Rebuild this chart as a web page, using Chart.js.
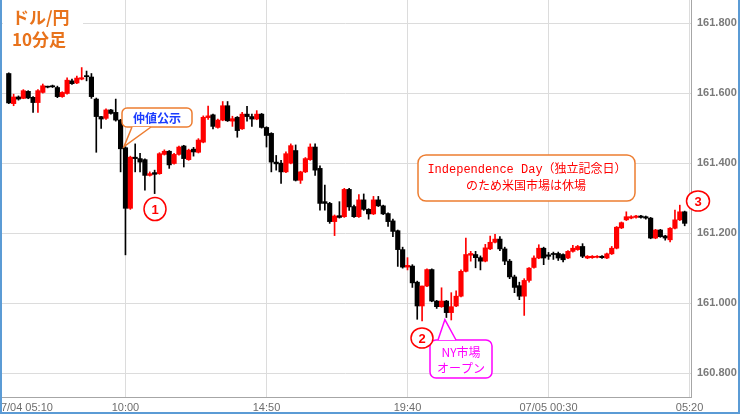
<!DOCTYPE html>
<html>
<head>
  <meta charset="utf-8">
  <title>ドル/円 10分足</title>
  <script src="https://cdn.jsdelivr.net/npm/chart.js"></script>
  <style>
    html, body { margin: 0; padding: 0; background: #fff; }
    canvas { display: block; }
  </style>
</head>
<body>
  <canvas id="chart" width="740" height="414"></canvas>
  <script>
    // bar index 0 = 07/04 05:10, one bar every 10 minutes
    const firstBar = 5;

    const opens = [
      161.656, 161.570, 161.589, 161.585, 161.605, 161.588, 161.573, 161.602, 161.618, 161.621,
      161.616, 161.590, 161.599, 161.635, 161.629, 161.640, 161.650, 161.646, 161.583, 161.533,
      161.528, 161.552, 161.545, 161.523, 161.444, 161.271, 161.417, 161.413, 161.410, 161.365,
      161.373, 161.370, 161.425, 161.434, 161.399, 161.425, 161.449, 161.410, 161.440, 161.431,
      161.460, 161.530, 161.538, 161.502, 161.523, 161.564, 161.520, 161.531, 161.498, 161.540,
      161.533, 161.526, 161.540, 161.502, 161.485, 161.403, 161.400, 161.375, 161.400, 161.436,
      161.351, 161.375, 161.410, 161.446, 161.385, 161.290, 161.285, 161.233, 161.250, 161.247,
      161.325, 161.276, 161.247, 161.295, 161.268, 161.255, 161.295, 161.278, 161.256, 161.235,
      161.207, 161.153, 161.103, 161.106, 161.060, 160.992, 161.049, 161.096, 161.006, 160.990,
      161.006, 160.973, 160.992, 161.020, 161.091, 161.137, 161.139, 161.130, 161.120, 161.155,
      161.174, 161.183, 161.155, 161.120, 161.075, 161.050, 161.020, 161.065, 161.102, 161.129,
      161.157, 161.138, 161.142, 161.142, 161.139, 161.129, 161.148, 161.153, 161.162, 161.129,
      161.130, 161.131, 161.134, 161.129, 161.141, 161.157, 161.215, 161.238, 161.243, 161.245,
      161.249, 161.247, 161.243, 161.186, 161.209, 161.192, 161.181, 161.214, 161.238, 161.261
    ];
    const highs = [
      161.658, 161.597, 161.592, 161.610, 161.607, 161.590, 161.610, 161.626, 161.620, 161.623,
      161.620, 161.604, 161.644, 161.640, 161.649, 161.673, 161.663, 161.656, 161.586, 161.534,
      161.555, 161.554, 161.583, 161.525, 161.447, 161.420, 161.455, 161.428, 161.412, 161.375,
      161.380, 161.430, 161.438, 161.436, 161.428, 161.449, 161.451, 161.440, 161.445, 161.470,
      161.535, 161.563, 161.540, 161.526, 161.576, 161.576, 161.534, 161.533, 161.545, 161.562,
      161.540, 161.550, 161.542, 161.504, 161.487, 161.422, 161.408, 161.432, 161.455, 161.452,
      161.377, 161.416, 161.455, 161.455, 161.392, 161.337, 161.288, 161.252, 161.290, 161.328,
      161.328, 161.280, 161.310, 161.312, 161.270, 161.305, 161.305, 161.280, 161.258, 161.240,
      161.209, 161.160, 161.130, 161.110, 161.063, 161.049, 161.098, 161.098, 161.008, 161.044,
      161.008, 161.030, 161.035, 161.095, 161.186, 161.148, 161.148, 161.135, 161.168, 161.192,
      161.197, 161.190, 161.160, 161.125, 161.080, 161.060, 161.070, 161.102, 161.135, 161.167,
      161.160, 161.145, 161.146, 161.146, 161.141, 161.150, 161.165, 161.165, 161.170, 161.136,
      161.136, 161.136, 161.136, 161.143, 161.162, 161.219, 161.232, 161.261, 161.250, 161.251,
      161.251, 161.249, 161.245, 161.211, 161.211, 161.194, 161.216, 161.266, 161.280, 161.263
    ];
    const lows = [
      161.570, 161.564, 161.580, 161.584, 161.584, 161.545, 161.545, 161.600, 161.615, 161.616,
      161.587, 161.588, 161.597, 161.625, 161.627, 161.638, 161.635, 161.585, 161.431, 161.499,
      161.525, 161.540, 161.520, 161.375, 161.138, 161.268, 161.375, 161.375, 161.323, 161.363,
      161.313, 161.368, 161.423, 161.385, 161.397, 161.423, 161.389, 161.408, 161.420, 161.429,
      161.458, 161.525, 161.498, 161.500, 161.521, 161.519, 161.505, 161.474, 161.496, 161.520,
      161.505, 161.524, 161.500, 161.446, 161.375, 161.380, 161.342, 161.373, 161.398, 161.349,
      161.342, 161.373, 161.408, 161.365, 161.266, 161.266, 161.228, 161.193, 161.243, 161.245,
      161.265, 161.245, 161.245, 161.265, 161.240, 161.253, 161.276, 161.253, 161.219, 161.190,
      161.105, 161.100, 161.095, 161.045, 160.954, 160.949, 161.047, 161.004, 160.985, 160.988,
      160.959, 160.952, 160.990, 161.018, 161.089, 161.120, 161.101, 161.095, 161.118, 161.153,
      161.172, 161.150, 161.110, 161.070, 161.030, 161.010, 160.965, 161.060, 161.100, 161.127,
      161.110, 161.125, 161.125, 161.122, 161.118, 161.127, 161.146, 161.151, 161.130, 161.127,
      161.128, 161.129, 161.128, 161.127, 161.139, 161.155, 161.213, 161.236, 161.241, 161.243,
      161.243, 161.240, 161.184, 161.184, 161.188, 161.180, 161.175, 161.212, 161.236, 161.221
    ];
    const closes = [
      161.572, 161.589, 161.583, 161.607, 161.586, 161.573, 161.607, 161.621, 161.617, 161.618,
      161.590, 161.602, 161.637, 161.627, 161.643, 161.644, 161.647, 161.590, 161.533, 161.526,
      161.552, 161.542, 161.523, 161.441, 161.271, 161.417, 161.413, 161.403, 161.365, 161.370,
      161.368, 161.427, 161.434, 161.395, 161.425, 161.446, 161.413, 161.437, 161.432, 161.466,
      161.531, 161.535, 161.505, 161.523, 161.564, 161.521, 161.527, 161.493, 161.540, 161.533,
      161.526, 161.540, 161.502, 161.479, 161.403, 161.398, 161.375, 161.427, 161.450, 161.351,
      161.375, 161.413, 161.446, 161.380, 161.285, 161.285, 161.233, 161.249, 161.245, 161.325,
      161.275, 161.247, 161.295, 161.268, 161.255, 161.295, 161.278, 161.255, 161.233, 161.205,
      161.153, 161.103, 161.108, 161.058, 160.992, 161.049, 161.096, 161.006, 160.990, 161.006,
      160.973, 160.990, 161.020, 161.091, 161.139, 161.142, 161.130, 161.120, 161.158, 161.174,
      161.183, 161.155, 161.120, 161.075, 161.045, 161.020, 161.065, 161.100, 161.129, 161.157,
      161.129, 161.134, 161.139, 161.129, 161.124, 161.148, 161.157, 161.162, 161.134, 161.134,
      161.134, 161.134, 161.130, 161.141, 161.157, 161.217, 161.230, 161.247, 161.247, 161.249,
      161.245, 161.243, 161.186, 161.209, 161.190, 161.186, 161.214, 161.238, 161.261, 161.228
    ];

    // x axis: bar positions of the time labels (first one is pushed in from the left edge)
    const xTickPos = [8.1, 29, 58, 87, 116, 145];
    const xTickLabels = ['07/04 05:10', '10:00', '14:50', '19:40', '07/05 00:30', '05:20'];
    const yTicks = [160.8, 161.0, 161.2, 161.4, 161.6, 161.8];

    const UP = '#ff0000', DOWN = '#000000';
    const ORANGE = '#ed7d31';
    const colors = opens.map((o, k) => closes[k] >= o ? UP : DOWN);
    const bodies = opens.map((o, k) => ({ x: firstBar + k, y: [o, closes[k]] }));
    const wicks = lows.map((l, k) => ({ x: firstBar + k, y: [l, highs[k]] }));

    function roundBox(ctx, x, y, w, h, r) {
      ctx.beginPath();
      ctx.moveTo(x + r, y);
      ctx.arcTo(x + w, y, x + w, y + h, r);
      ctx.arcTo(x + w, y + h, x, y + h, r);
      ctx.arcTo(x, y + h, x, y, r);
      ctx.arcTo(x, y, x + w, y, r);
      ctx.closePath();
    }

    // rounded box with a pointer; tail = [baseA, tip, baseB], base points on the box edge
    function callout(ctx, x, y, w, h, r, tail, color) {
      ctx.save();
      ctx.lineWidth = 1.5;
      ctx.strokeStyle = color;
      ctx.fillStyle = '#fff';
      roundBox(ctx, x, y, w, h, r);
      ctx.fill();
      ctx.stroke();
      if (tail) {
        const [a, t, b] = tail;
        ctx.beginPath();
        ctx.moveTo(a[0], a[1]);
        ctx.lineTo(t[0], t[1]);
        ctx.lineTo(b[0], b[1]);
        ctx.closePath();
        ctx.fill();
        ctx.beginPath();
        ctx.moveTo(a[0], a[1]);
        ctx.lineTo(t[0], t[1]);
        ctx.lineTo(b[0], b[1]);
        ctx.stroke();
      }
      ctx.restore();
    }

    function marker(ctx, cx, cy, rx, ry, text) {
      ctx.save();
      ctx.beginPath();
      ctx.ellipse(cx, cy, rx, ry, 0, 0, Math.PI * 2);
      ctx.fillStyle = '#fff';
      ctx.fill();
      ctx.lineWidth = 1.5;
      ctx.strokeStyle = UP;
      ctx.stroke();
      ctx.fillStyle = UP;
      ctx.font = 'bold 13px "Liberation Sans", sans-serif';
      ctx.textAlign = 'center';
      ctx.textBaseline = 'middle';
      ctx.fillText(text, cx, cy + 1);
      ctx.restore();
    }

    const background = {
      id: 'background',
      beforeDraw(chart) {
        const ctx = chart.ctx;
        ctx.save();
        ctx.fillStyle = '#fff';
        ctx.fillRect(0, 0, chart.width, chart.height);
        ctx.restore();
      }
    };

    const notes = {
      id: 'notes',
      afterDraw(chart) {
        const ctx = chart.ctx;
        const xs = chart.scales.x, ys = chart.scales.y;

        // title block
        ctx.save();
        ctx.fillStyle = '#fff';
        ctx.fillRect(3, 2, 80, 54);
        ctx.fillStyle = '#e8731c';
        ctx.font = 'bold 17px "Noto Sans CJK JP", sans-serif';
        ctx.textAlign = 'left';
        ctx.textBaseline = 'middle';
        ctx.fillText('ドル/円', 12, 18);
        ctx.fillText('10分足', 12, 40);
        ctx.restore();

        // 仲値公示 callout, pointing at the 10:00 bar
        const k1 = 29 - firstBar;
        const tip1 = [xs.getPixelForValue(29) - 1.5, ys.getPixelForValue(highs[k1])];
        callout(ctx, 122, 108, 70, 19, 5, [[132, 127], tip1, [151, 127]], ORANGE);
        ctx.save();
        ctx.fillStyle = '#1a3cff';
        ctx.font = 'bold 12px "Noto Sans CJK JP", sans-serif';
        ctx.textAlign = 'center';
        ctx.textBaseline = 'middle';
        ctx.fillText('仲値公示', 157, 118);
        ctx.restore();

        // NY open callout, pointing at the 19:20 bar low
        const k2 = 95 - firstBar;
        const tip2 = [xs.getPixelForValue(95) - 1.5, ys.getPixelForValue(lows[k2]) + 2];
        callout(ctx, 430, 340, 62, 38, 6, [[438, 340], tip2, [456, 340]], '#ff00ff');
        ctx.save();
        ctx.fillStyle = '#ff00ff';
        ctx.font = '12px "Noto Sans CJK JP", sans-serif';
        ctx.textAlign = 'center';
        ctx.textBaseline = 'middle';
        ctx.fillText('NY市場', 461, 352);
        ctx.fillText('オープン', 461, 368);
        ctx.restore();

        // holiday note
        callout(ctx, 418, 155, 217, 46, 8, null, ORANGE);
        ctx.save();
        ctx.fillStyle = '#ff0000';
        ctx.font = '12px "Liberation Mono", "Noto Sans CJK JP", monospace';
        ctx.textAlign = 'center';
        ctx.textBaseline = 'middle';
        ctx.fillText('Independence Day（独立記念日）', 527, 170);
        ctx.font = '12px "Noto Sans CJK JP", sans-serif';
        ctx.fillText('のため米国市場は休場', 526, 185);
        ctx.restore();

        marker(ctx, 155, 209, 11, 11.5, '1');
        marker(ctx, 422, 338, 11, 10, '2');
        marker(ctx, 698, 201, 11.5, 10, '3');

        // outer frame
        ctx.save();
        ctx.strokeStyle = '#5b9bd5';
        ctx.lineWidth = 2;
        ctx.beginPath();
        ctx.moveTo(1, 0);
        ctx.lineTo(1, chart.height - 1);
        ctx.lineTo(chart.width - 1, chart.height - 1);
        ctx.lineTo(chart.width - 1, 0);
        ctx.stroke();
        ctx.restore();
      }
    };

    new Chart(document.getElementById('chart'), {
      type: 'bar',
      data: {
        datasets: [
          { data: bodies, backgroundColor: colors, barThickness: 4.5, minBarLength: 1, grouped: false },
          { data: wicks, backgroundColor: colors, barThickness: 1, grouped: false }
        ]
      },
      options: {
        responsive: false,
        animation: false,
        devicePixelRatio: 1,
        events: [],
        layout: { padding: 0 },
        plugins: { legend: { display: false }, tooltip: { enabled: false } },
        scales: {
          x: {
            type: 'linear',
            offset: false,
            min: 3.2,
            max: 145.3,
            afterBuildTicks: (scale) => { scale.ticks = xTickPos.map(v => ({ value: v })); },
            afterFit: (scale) => { scale.height = 17; scale.paddingLeft = 0; scale.paddingRight = 0; },
            grid: {
              offset: false,
              color: (c) => c.index === 0 ? 'rgba(0,0,0,0)' : '#dcdcdc',
              drawTicks: false
            },
            border: { color: '#a6a6a6' },
            ticks: {
              autoSkip: false,
              maxRotation: 0,
              padding: 4,
              color: '#6e6e6e',
              font: { family: '"Liberation Sans", Arial, sans-serif', size: 11 },
              callback: (v, i) => xTickLabels[i]
            }
          },
          y: {
            position: 'right',
            min: 160.732,
            max: 161.866,
            afterBuildTicks: (scale) => { scale.ticks = yTicks.map(v => ({ value: v })); },
            afterFit: (scale) => { scale.width = 49; scale.paddingTop = 0; scale.paddingBottom = 0; },
            grid: { color: '#dcdcdc', drawTicks: false },
            border: { color: '#a6a6a6' },
            ticks: {
              padding: 6,
              color: '#7a7a7a',
              font: { family: '"Liberation Sans", Arial, sans-serif', size: 11, weight: 'bold' },
              callback: (v) => v.toFixed(3)
            }
          }
        }
      },
      plugins: [background, notes]
    });
  </script>
</body>
</html>
